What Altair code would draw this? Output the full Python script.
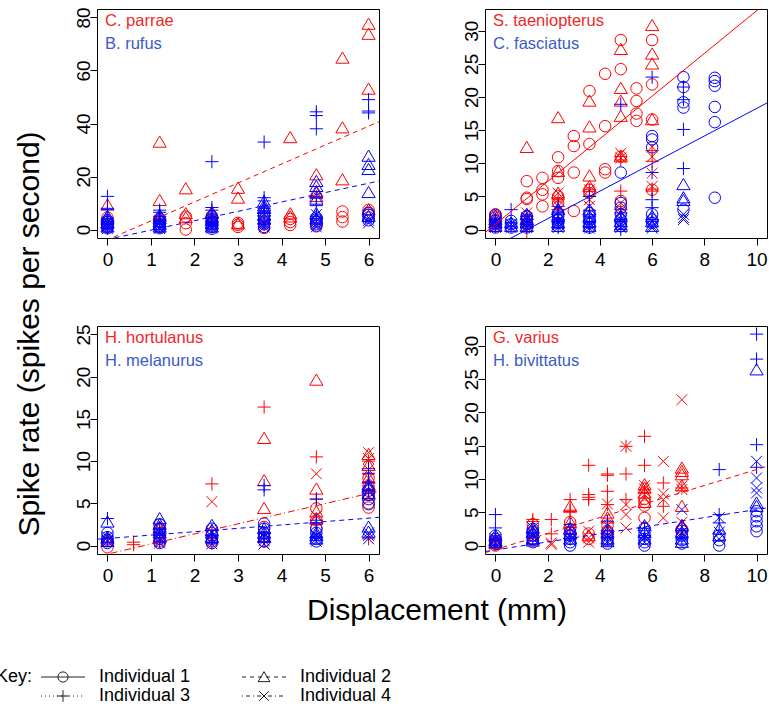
import altair as alt
import pandas as pd

FONT = "Liberation Sans"
RED = "#FF0000"
BLUE = "#0000FF"
RED_TXT = "#F02828"
BLUE_TXT = "#3A5AC8"

TRI = "M0,-1.05L1.15,0.9L-1.15,0.9Z"
PLUS = "M-1.15,0L1.15,0M0,-1.15L0,1.15"
XSH = "M-0.95,-0.95L0.95,0.95M-0.95,0.95L0.95,-0.95"
SHAPES = ["circle", TRI, PLUS, XSH]

Y_TITLE = "Spike rate (spikes per second)"
X_TITLE = "Displacement (mm)"
KEY_LABELS = ["Individual 1", "Individual 2", "Individual 3", "Individual 4"]

# ---------------- data: {individual: [(displacement, [spike rates])]} ----------------
TL_NAMES = ["C. parrae", "B. rufus"]
TL_RED = {
    1: [(0, [1.0, 2.0, 3.0, 4.5]), (1.2, [1.0, 2.0, 3.0, 4.0]), (1.8, [0.0, 2.4, 4.9]),
        (2.4, [1.5, 3.5, 5.0]), (3.0, [1.0, 1.8, 2.5]), (3.6, [0.6, 2.5]), (4.2, [1.7, 2.8, 4.0]),
        (4.8, [1.2, 3.0]), (5.4, [3.0, 4.7, 6.8]), (6.0, [5.6, 6.4, 7.4])],
    2: [(0, [9.3, 2.5]), (1.2, [33.0, 11.0, 5.0]), (1.8, [15.4, 6.0, 4.5]), (2.4, [6.5, 4.0]),
        (3.0, [15.6, 11.9, 2.2]), (3.6, [5.5, 8.0]), (4.2, [34.7, 6.0, 4.8]),
        (4.8, [20.7, 14.4, 12.5]), (5.4, [64.7, 38.4, 18.8]), (6.0, [77.5, 73.7, 53.0, 7.5])],
}
TL_BLUE = {
    1: [(0, [0.5, 1.2, 2.0, 2.8, 3.5]), (1.2, [0.5, 1.2, 2.0, 3.0, 4.0]), (2.4, [0.3, 1.0, 2.0, 3.0, 4.0, 5.0]),
        (3.6, [1.0, 2.0, 3.0, 4.0, 5.0]), (4.8, [1.5, 2.2, 3.0, 3.8, 4.5]), (6.0, [3.5, 4.5, 5.5, 6.2])],
    2: [(0, [1.0, 2.5, 4.0, 5.0]), (1.2, [1.0, 2.0, 3.0, 4.2, 5.5]), (2.4, [1.0, 2.2, 3.5, 4.8, 6.0]),
        (3.6, [4.0, 5.5, 7.0, 8.0, 9.0, 10.5]), (4.8, [18.2, 16.3, 13.8, 11.5, 6.0, 4.0]),
        (6.0, [27.7, 24.6, 22.7, 14.0, 5.0])],
    3: [(0, [12.5, 8.0, 7.5, 4.0, 2.0, 0.5]), (1.2, [7.3, 6.5, 5.0, 3.5, 1.0]),
        (2.4, [25.6, 8.3, 7.3, 4.5, 2.5, 1.0]), (3.6, [33.0, 12.0, 10.8, 8.0, 6.5, 2.0]),
        (4.8, [44.4, 43.0, 38.0, 12.0, 9.0, 5.0]), (6.0, [49.0, 44.7, 44.0])],
    4: [(0, [0.3, 1.0, 1.5, 2.5]), (1.2, [0.3, 0.8, 1.5, 2.5]), (2.4, [0.5, 1.2, 2.0]), (3.6, [1.0, 1.8, 2.5]),
        (4.8, [5.6, 3.0, 2.0, 1.0]), (6.0, [4.5, 3.5, 2.5])],
}
TL_RED_LINE = ([-0.24, 6.24], [-5.6, 40.7])
TL_BLUE_LINE = ([-0.24, 6.24], [-4.6, 18.3])

TR_NAMES = ["S. taeniopterus", "C. fasciatus"]
TR_RED = {
    1: [(0, [0.5, 1.0, 1.5, 2.0, 2.3]), (1.2, [7.3, 4.8, 4.6, 1.0, 2.0]), (1.8, [7.8, 6.0, 5.3, 3.5]),
        (2.4, [10.9, 8.8, 7.8, 5.0, 4.0]), (3.0, [14.1, 12.6, 8.6, 2.8]), (3.6, [20.9, 12.9, 6.0, 5.5]),
        (4.2, [23.5, 15.6, 9.1, 8.6]), (4.8, [28.6, 24.2, 11.0, 4.3]), (5.4, [21.3, 19.4, 17.5, 16.4]),
        (6.0, [28.6, 21.9, 16.6, 6.0])],
    2: [(0, [1.0, 2.0]), (1.2, [12.4, 1.5]), (2.4, [16.9, 8.8, 5.5]), (3.6, [19.4, 15.5, 8.1, 6.5]),
        (4.8, [27.2, 21.3, 19.4, 17.1, 11.0]), (6.0, [30.8, 26.5, 25.0, 16.6])],
    3: [(0, [0.5, 1.5]), (1.2, [0.5, 1.5, -0.3]), (2.4, [4.5, 3.0]), (3.6, [6.0, 5.0]),
        (4.8, [11.0, 10.5, 5.8, 3.0]), (6.0, [11.9, 10.3, 6.1, 5.8])],
    4: [(0, [0.3, 1.2]), (1.2, [0.5, 1.5, 2.5]), (2.4, [5.5, 4.5, 3.5, 2.0]), (3.6, [6.0, 4.5, 3.5]),
        (4.8, [11.5, 10.8, 4.0, 2.5]), (6.0, [12.5, 11.0, 8.5, 6.5])],
}
TR_BLUE = {
    1: [(0, [0.3, 0.8, 1.3, 1.8, 2.2]), (0.6, [0.3, 0.8, 1.3]), (1.2, [0.3, 0.8, 1.5, 2.0]),
        (2.4, [0.5, 1.0, 1.5, 2.0, 2.5]), (3.6, [0.3, 1.0, 1.5, 2.0, 2.5]),
        (4.8, [8.6, 4.0, 3.3, 2.3, 1.5, 1.0, 0.5]), (6.0, [14.1, 13.6, 12.4, 2.3, 1.5, 1.0]),
        (7.2, [23.0, 21.5, 19.2, 18.4, 3.0]), (8.4, [22.9, 22.4, 21.7, 18.5, 16.2, 4.8])],
    2: [(0, [0.5, 1.0, 1.5]), (0.6, [0.5, 1.0]), (1.2, [0.5, 1.0, 1.5, 2.3]), (2.4, [0.5, 1.0, 2.0, 3.0]),
        (3.6, [0.5, 1.2, 2.0, 3.0]), (4.8, [0.5, 1.2, 2.0]), (6.0, [0.5, 1.2, 2.0]), (7.2, [6.8, 4.8, 4.4])],
    3: [(0, [0.5, 1.0, 1.5]), (0.6, [3.0, 1.0, 0.5]), (1.2, [0.5, 1.0, 2.0]), (2.4, [3.5, 2.5, 1.5, 1.0, 0.3]),
        (3.6, [5.0, 2.9, 2.0, 1.0, 0.3]), (4.8, [18.9, 2.5, 1.5, 0.0]), (6.0, [23.0, 8.6, 4.5, 3.3, 1.5]),
        (7.2, [21.5, 19.6, 15.1, 9.2])],
    4: [(0, [0.5, 1.0]), (0.6, [0.3, 0.8]), (1.2, [0.3, 1.0, 1.8]), (2.4, [0.3, 0.8, 1.2]),
        (3.6, [0.2, 0.6, 1.0]), (4.8, [0.3, 0.8, 1.5]), (6.0, [0.2, 0.5, 1.2]), (7.2, [2.3, 1.8, 1.5])],
}
TR_RED_LINE = ([-0.4, 10.4], [-0.47, 34.3])
TR_BLUE_LINE = ([-0.4, 10.4], [-3.36, 19.1])

BL_NAMES = ["H. hortulanus", "H. melanurus"]
BL_RED = {
    1: [(0, [-0.2, 0.5]), (1.2, [0.5, 1.5, 2.5]), (2.4, [0.5, 1.5]), (3.6, [0.5, 1.5, 2.2]),
        (4.8, [4.4, 3.0, 2.0]), (6.0, [4.5, 5.0, 6.0, 7.0, 8.0])],
    2: [(0, [0.8]), (1.2, [1.0, 2.0]), (2.4, [1.0]), (3.6, [12.7, 7.7, 4.4, 1.0]),
        (4.8, [19.6, 6.7, 4.0, 3.2]), (6.0, [10.8, 9.5, 8.0, 7.0, 6.0])],
    3: [(0.6, [0.4, 0.1]), (1.2, [0.5, 1.5]), (2.4, [7.3, 1.0]), (3.6, [16.4, 0.5]),
        (4.8, [10.5, 5.5, 2.5]), (6.0, [10.0, 6.5, 0.8])],
    4: [(0, [0.5]), (1.2, [0.5, 2.0]), (2.4, [5.2, 0.5]), (3.6, [0.2, 1.0]), (4.8, [8.5, 3.5]),
        (6.0, [11.0, 10.3, 9.0, 8.0, 6.5])],
}
BL_BLUE = {
    1: [(0, [0.3, 0.7, 1.0, 1.5]), (1.2, [0.3, 0.8, 1.2, 2.0, 2.5]), (2.4, [0.3, 0.8, 1.2, 2.0]),
        (3.6, [2.6, 2.0, 1.5, 1.0, 0.5]), (4.8, [0.5, 0.8, 1.5, 2.0]), (6.0, [4.9, 5.5, 6.0, 6.5])],
    2: [(0, [2.8, 1.0, 0.5]), (1.2, [3.2, 2.5, 2.2, 1.5, 1.0]), (2.4, [2.4, 1.8, 1.0]), (3.6, [2.0, 1.5, 1.0]),
        (4.8, [1.5, 1.2, 0.8]), (6.0, [7.2, 6.8, 6.2, 2.2, 1.6])],
    3: [(0, [3.2, 0.8]), (1.2, [2.0, 1.2, 0.5]), (2.4, [1.8, 1.0, 0.3]), (3.6, [7.1, 6.6, 1.5, 0.8]),
        (4.8, [5.5, 3.0, 2.7, 1.0]), (6.0, [9.1, 8.5, 7.5, 6.5])],
    4: [(0, [0.5, 1.0]), (1.2, [0.3, 0.8, 1.5]), (2.4, [0.2, 0.8, 1.5]), (3.6, [0.2, 0.6, 1.0]),
        (4.8, [0.5, 0.8, 1.2]), (6.0, [1.5, 1.2, 0.8])],
}
BL_RED_LINE = ([-0.24, 6.24], [-1.3, 6.45])
BL_BLUE_LINE = ([-0.24, 6.24], [0.74, 3.34])

BR_NAMES = ["G. varius", "H. bivittatus"]
BR_RED = {
    1: [(0, [0.0, 0.5, 1.0]), (1.43, [3.2, 2.2, 1.5, 0.8]), (2.86, [1.5, 2.5, 3.5]), (3.57, [1.0, 1.8]),
        (4.29, [3.0, 2.0, 1.0]), (5.71, [4.15, 6.5, 6.0, 7.0]), (7.14, [2.5])],
    2: [(0, [0.3, 0.8]), (1.43, [1.0, 2.0]), (2.86, [5.9, 2.5, 3.5]), (3.57, [1.5]), (4.29, [4.9, 4.15, 2.5]),
        (5.71, [9.15, 8.65, 7.9, 6.5]), (7.14, [11.65, 11.15, 10.65, 9.0, 5.9, 3.0])],
    3: [(0, [0.5]), (1.43, [3.9, 3.6]), (2.14, [3.9, 1.75]), (2.86, [6.9, 5.3, 5.0]),
        (3.57, [12.05, 7.65, 7.25, 6.9]), (4.29, [10.75, 10.55, 8.15, 6.15]), (5.0, [14.9, 10.75, 6.9]),
        (5.71, [16.4, 12.05, 8.0]), (6.43, [9.4, 5.9]), (7.14, [8.65, 2.0])],
    4: [(0, [0.2]), (1.43, [1.5]), (2.14, [0.4, 0.15]), (2.86, [2.0]), (3.57, [2.15, 1.15, 0.5]),
        (4.29, [6.25, 3.0]), (5.0, [14.9, 6.15, 4.65, 2.65]), (5.71, [7.65, 8.5, 9.0]),
        (6.43, [12.65, 7.75, 6.9, 4.15]), (7.14, [21.9, 8.4, 8.9, 3.5])],
}
BR_BLUE = {
    1: [(0, [0.3, 0.7, 1.0, 1.5]), (1.43, [0.5, 1.0, 1.5, 2.0, 2.5]), (2.86, [0.0, 0.5, 1.0, 1.5, 2.0]),
        (4.29, [0.3, 0.8, 1.5, 2.2]), (5.71, [0.0, 0.5, 1.0, 1.8, 2.6]), (7.14, [0.3, 0.8, 1.5, 2.2]),
        (8.57, [0.0, 0.8, 1.5]), (10.0, [5.15, 4.4, 3.65, 2.9, 2.15])],
    2: [(0, [0.5, 0.8, 1.5]), (1.43, [0.7, 1.0, 2.0, 2.6]), (2.86, [1.0, 1.8, 2.5]), (4.29, [0.6, 1.0, 2.0]),
        (5.71, [1.0, 2.0, 3.0]), (7.14, [0.5, 1.0, 2.0, 3.0]), (8.57, [1.5, 2.5]), (10.0, [26.4, 6.4, 5.9])],
    3: [(0, [4.65, 2.65, 1.0]), (1.43, [2.0, 1.2]), (2.86, [3.15, 1.0]), (4.29, [3.65, 2.2, 1.0]),
        (5.71, [2.6, 1.5]), (7.14, [2.5, 1.0]), (8.57, [11.4, 4.65, 3.4]), (10.0, [31.75, 28.0, 15.15, 11.75])],
    4: [(0, [0.5, 1.0]), (1.43, [2.65, 1.8, 1.0]), (2.86, [1.5, 0.8]), (4.29, [1.5, 0.6]), (5.71, [1.2, 0.5]),
        (7.14, [5.4, 2.0, 1.0]), (8.57, [4.2, 2.0, 1.0]), (10.0, [12.65, 10.15, 8.65, 7.9])],
}
BR_RED_LINE = ([-0.4, 10.4], [-1.08, 11.9])
BR_BLUE_LINE = ([-0.4, 10.4], [-0.9, 5.65])

SHORT_X = [-0.24, 6.24]
LONG_X = [-0.4, 10.4]
SHORT_TICKS = [0, 1, 2, 3, 4, 5, 6]
LONG_TICKS = [0, 2, 4, 6, 8, 10]

ONE = alt.Data(values=[{}])


def expand(d):
    rows = []
    for ind, cols in d.items():
        for x, ys in cols:
            for y in ys:
                rows.append({"x": x, "y": y, "ind": ind})
    return pd.DataFrame(rows)


def panel(red, blue, rline, bline, rdash, bdash, xdom, ydom, xt, yt, names, h, extra=()):
    xenc = alt.X("x:Q", scale=alt.Scale(domain=xdom, nice=False, zero=False),
                 axis=alt.Axis(values=xt, title=None))
    yenc = alt.Y("y:Q", scale=alt.Scale(domain=ydom, nice=False, zero=False),
                 axis=alt.Axis(values=yt, title=None))
    shape = alt.Shape("ind:O", scale=alt.Scale(domain=[1, 2, 3, 4], range=SHAPES), legend=None)
    layers = []
    for d, col in ((red, RED), (blue, BLUE)):
        layers.append(alt.Chart(expand(d)).mark_point(filled=False, size=132, strokeWidth=1,
                                                      color=col, opacity=1)
                      .encode(x=xenc, y=yenc, shape=shape))
    for ln, col, dash in ((rline, RED, rdash), (bline, BLUE, bdash)):
        kw = {"strokeDash": dash} if dash else {}
        layers.append(alt.Chart(pd.DataFrame({"x": ln[0], "y": ln[1]}))
                      .mark_line(clip=True, color=col, strokeWidth=1, **kw)
                      .encode(x=xenc, y=yenc))
    for i, (nm, col) in enumerate(zip(names, (RED_TXT, BLUE_TXT))):
        layers.append(alt.Chart(ONE).mark_text(align="left", baseline="middle", font=FONT,
                                               fontSize=16.5, color=col)
                      .encode(x=alt.value(8), y=alt.value(12 + 22.5 * i), text=alt.value(nm)))
    layers.extend(extra)
    return alt.layer(*layers).properties(width=282, height=h,
                                         view=alt.ViewBackground(stroke="black", strokeWidth=1))


# ---------------- figure-level titles and key (placed relative to the bottom-left panel) ----------------
OX, OY = 96, 325  # origin of bottom-left panel in the figure
extra = [
    alt.Chart(ONE).mark_text(angle=270, align="center", baseline="middle", font=FONT, fontSize=30,
                             color="black")
    .encode(x=alt.value(29 - OX), y=alt.value(333 - OY), text=alt.value(Y_TITLE)),
    alt.Chart(ONE).mark_text(align="center", baseline="middle", font=FONT, fontSize=30, color="black")
    .encode(x=alt.value(436 - OX), y=alt.value(610 - OY), text=alt.value(X_TITLE)),
    alt.Chart(ONE).mark_text(align="right", baseline="middle", font=FONT, fontSize=18, color="black")
    .encode(x=alt.value(31 - OX), y=alt.value(676 - OY), text=alt.value("Key:")),
]
KEY_DASHES = [None, [4, 4], [1, 3], [1, 3, 4, 3]]
for i, (lab, dash, shp) in enumerate(zip(KEY_LABELS, KEY_DASHES, SHAPES)):
    col, row = i % 2, i // 2
    xc = 62 + 201 * col - OX
    yr = 676 + 19 * row - OY
    kw = {"strokeDash": dash} if dash else {}
    extra.append(alt.Chart(ONE).mark_rule(color="#222222", strokeWidth=1, **kw)
                 .encode(x=alt.value(xc - 22), x2=alt.value(xc + 22), y=alt.value(yr)))
    extra.append(alt.Chart(ONE).mark_point(filled=False, shape=shp, size=105, strokeWidth=1,
                                           color="#222222", opacity=1)
                 .encode(x=alt.value(xc), y=alt.value(yr)))
    extra.append(alt.Chart(ONE).mark_text(align="left", baseline="middle", font=FONT, fontSize=18,
                                          color="black")
                 .encode(x=alt.value(xc + 36), y=alt.value(yr), text=alt.value(lab)))

DASH = [5, 4]
DOTDASH = [7, 3, 1, 3]

tl = panel(TL_RED, TL_BLUE, TL_RED_LINE, TL_BLUE_LINE, DASH, DASH, SHORT_X, [-3.2, 83.2],
           SHORT_TICKS, [0, 20, 40, 60, 80], TL_NAMES, 229)
tr = panel(TR_RED, TR_BLUE, TR_RED_LINE, TR_BLUE_LINE, None, None, LONG_X, [-1.28, 33.28],
           LONG_TICKS, [0, 5, 10, 15, 20, 25, 30], TR_NAMES, 229)
bl = panel(BL_RED, BL_BLUE, BL_RED_LINE, BL_BLUE_LINE, DOTDASH, DASH, SHORT_X, [-1.0, 26.0],
           SHORT_TICKS, [0, 5, 10, 15, 20, 25], BL_NAMES, 228, extra)
br = panel(BR_RED, BR_BLUE, BR_RED_LINE, BR_BLUE_LINE, DASH, DASH, LONG_X, [-1.27, 32.97],
           LONG_TICKS, [0, 5, 10, 15, 20, 25, 30], BR_NAMES, 228)

chart = (alt.concat(tl, tr, bl, br, columns=2, spacing={"row": 88, "column": 106}, bounds="flush")
         .properties(padding={"left": -5, "top": 6, "right": 0, "bottom": 0})
         .configure_view(stroke=None)
         .configure_axis(domain=False, grid=False, ticks=True, tickSize=7, tickColor="black",
                         tickWidth=1, labelFont=FONT, labelFontSize=19, labelColor="black",
                         labelFlush=False, labelOverlap=False)
         .configure_axisY(labelAngle=270, labelAlign="center", labelBaseline="alphabetic",
                          labelPadding=1)
         .configure_axisX(labelBaseline="top", labelPadding=5))

chart.save("out.html", embed_options={"renderer": "svg", "actions": False})
